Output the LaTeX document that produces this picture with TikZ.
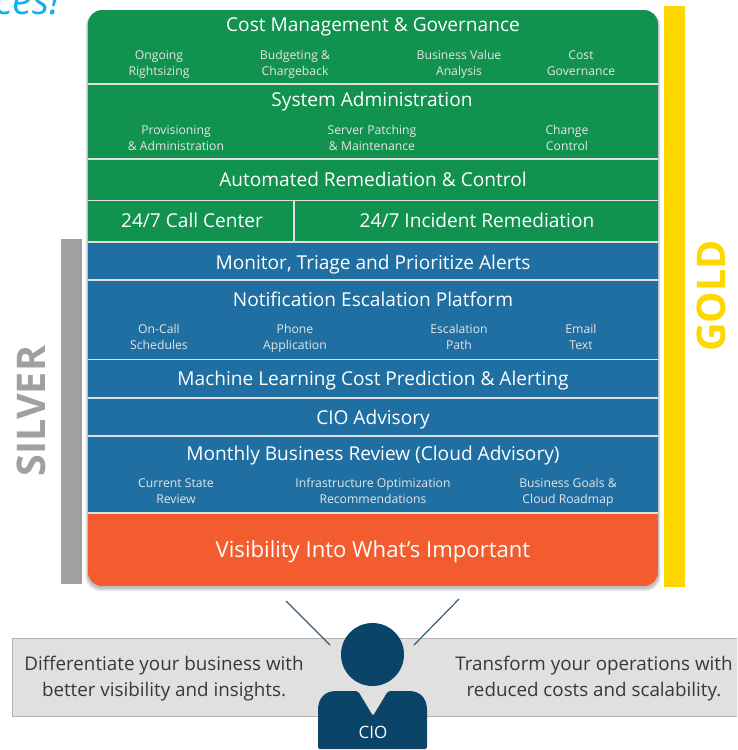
\documentclass[tikz,border=0pt]{standalone}
\usepackage{fontspec}
\setmainfont{Open Sans}
\definecolor{bandgreen}{HTML}{12924F}
\definecolor{bandblue}{HTML}{1F6FA3}
\definecolor{bandorange}{HTML}{F25C2F}
\definecolor{goldbar}{HTML}{FFD700}
\definecolor{silverbar}{HTML}{A0A0A0}
\definecolor{cionavy}{HTML}{0A4468}
\definecolor{stripgray}{HTML}{E0E0E0}
\definecolor{quotecyan}{HTML}{12AEEF}
\colorlet{ciolinecol}{cionavy!85!white}
\tikzset{
  head/.style={text=white,inner sep=0pt,text height=15.5pt,text depth=2.5pt,font=\fontsize{19.1}{22}\selectfont},
  sub/.style={text=white!90!black,align=center,inner sep=0pt,text height=26pt,text depth=2pt,font=\fontsize{12.2}{15.5}\selectfont},
  sepline/.style={draw=white!88!black,line width=1.5pt},
  bar/.style={font=\bfseries\fontsize{39.5}{44}\selectfont,rotate=90},
  quote/.style={text=black!78,align=center,inner sep=0pt,text height=38pt,text depth=0pt,font=\fontsize{18.8}{26}\selectfont},
  cioline/.style={draw=ciolinecol,line width=1.2pt}
}
\begin{document}
\begin{tikzpicture}[x=1pt,y=-1pt]
\clip (0,0) rectangle (737,750);
\node[anchor=base east,inner sep=0pt,text=quotecyan,font=\itshape\fontsize{40}{44}\selectfont] (tagline) at (60,14) {ces!};
% side bars
\fill[goldbar] (664,6) rectangle (685,587);
\fill[silverbar] (61,239) rectangle (82,584);
\node[bar,text=goldbar] (gold) at (711,296) {GOLD};
\node[bar,text=silverbar] (silver) at (31,411) {SILVER};
% panel shadow
\foreach \d in {1,2,3,4}
  \fill[black,opacity=.07,rounded corners=14pt] (88-\d*.6,12) rectangle (658+\d*.6,586+\d+1);
% panel
\begin{scope}
\clip[rounded corners=14pt] (88,10) rectangle (658,586);
\fill[bandgreen] (88,10) rectangle (658,243);
\fill[bandblue] (88,243) rectangle (658,514);
\fill[bandorange] (88,514) rectangle (658,586);
\draw[sepline] (88,84) -- (658,84);
\draw[sepline] (88,159) -- (658,159);
\draw[sepline] (88,200.5) -- (658,200.5);
\draw[sepline] (88,242) -- (658,242);
\draw[sepline] (294,200.5) -- (294,242);
\draw[sepline] (88,280) -- (658,280);
\draw[sepline] (88,359.5) -- (658,359.5);
\draw[sepline] (88,398) -- (658,398);
\draw[sepline] (88,436) -- (658,436);
\draw[sepline] (88,513) -- (658,513);
\end{scope}
% green rows
\node[head] (costmgmt) at (373,25) {Cost Management \& Governance};
\node[sub] (rightsizing) at (159,63) {Ongoing\\Rightsizing};
\node[sub] (budgeting) at (295,63) {Budgeting \&\\Chargeback};
\node[sub] (bizvalue) at (459,63) {Business Value\\Analysis};
\node[sub] (costgov) at (581,63) {Cost\\Governance};
\node[head] (sysadmin) at (372,100) {System Administration};
\node[sub] (provisioning) at (176,138) {Provisioning\\\& Administration};
\node[sub] (patching) at (372,138) {Server Patching\\\& Maintenance};
\node[sub] (change) at (567,138) {Change\\Control};
\node[head] (remediation) at (373,180) {Automated Remediation \& Control};
\node[head] (callcenter) at (192,221) {24/7 Call Center};
\node[head] (incident) at (477,221) {24/7 Incident Remediation};
% blue rows
\node[head] (monitor) at (373,263) {Monitor, Triage and Prioritize Alerts};
\node[head] (notify) at (373,300) {Notification Escalation Platform};
\node[sub] (oncall) at (159,337) {On-Call\\Schedules};
\node[sub] (phone) at (295,337) {Phone\\Application};
\node[sub] (escalation) at (459,337) {Escalation\\Path};
\node[sub] (email) at (581,337) {Email\\Text};
\node[head] (mlcost) at (373,379) {Machine Learning Cost Prediction \& Alerting};
\node[head] (advisory) at (373,418) {CIO Advisory};
\node[head] (review) at (373,454) {Monthly Business Review (Cloud Advisory)};
\node[sub] (current) at (176,491) {Current State\\Review};
\node[sub] (infra) at (373,491) {Infrastructure Optimization\\Recommendations};
\node[sub] (goals) at (568,491) {Business Goals \&\\Cloud Roadmap};
\node[head,font=\fontsize{22.1}{24}\selectfont] (visibility) at (373,550.5) {Visibility Into What's Important};
% bottom strip
\draw[draw=black!30,fill=stripgray] (12,638) rectangle (745,716);
\node[quote] (leftquote) at (164,677) {Differentiate your business with\\better visibility and insights.};
\node[quote] (rightquote) at (594,677) {Transform your operations with\\reduced costs and scalability.};
% cio figure
\coordinate (leftstart) at (286,601);
\coordinate (leftend) at (330,645);
\coordinate (rightstart) at (459,599);
\coordinate (rightend) at (414,645);
\draw[cioline] (leftstart) -- (leftend);
\draw[cioline] (rightstart) -- (rightend);
\fill[cionavy] (372.5,654.5) ellipse [x radius=31.5,y radius=31.5];
\fill[cionavy,rounded corners=2pt] (318,749) -- (318,712) .. controls (318,698) and (325,691) .. (338,691) -- (358,691) -- (373,716) -- (388,691) -- (407,691) .. controls (420,691) and (427,698) .. (427,712) -- (427,749) -- cycle;
\node[text=white,inner sep=0pt,font=\fontsize{17}{20}\selectfont] (cio) at (373,732) {CIO};
\end{tikzpicture}
\end{document}
